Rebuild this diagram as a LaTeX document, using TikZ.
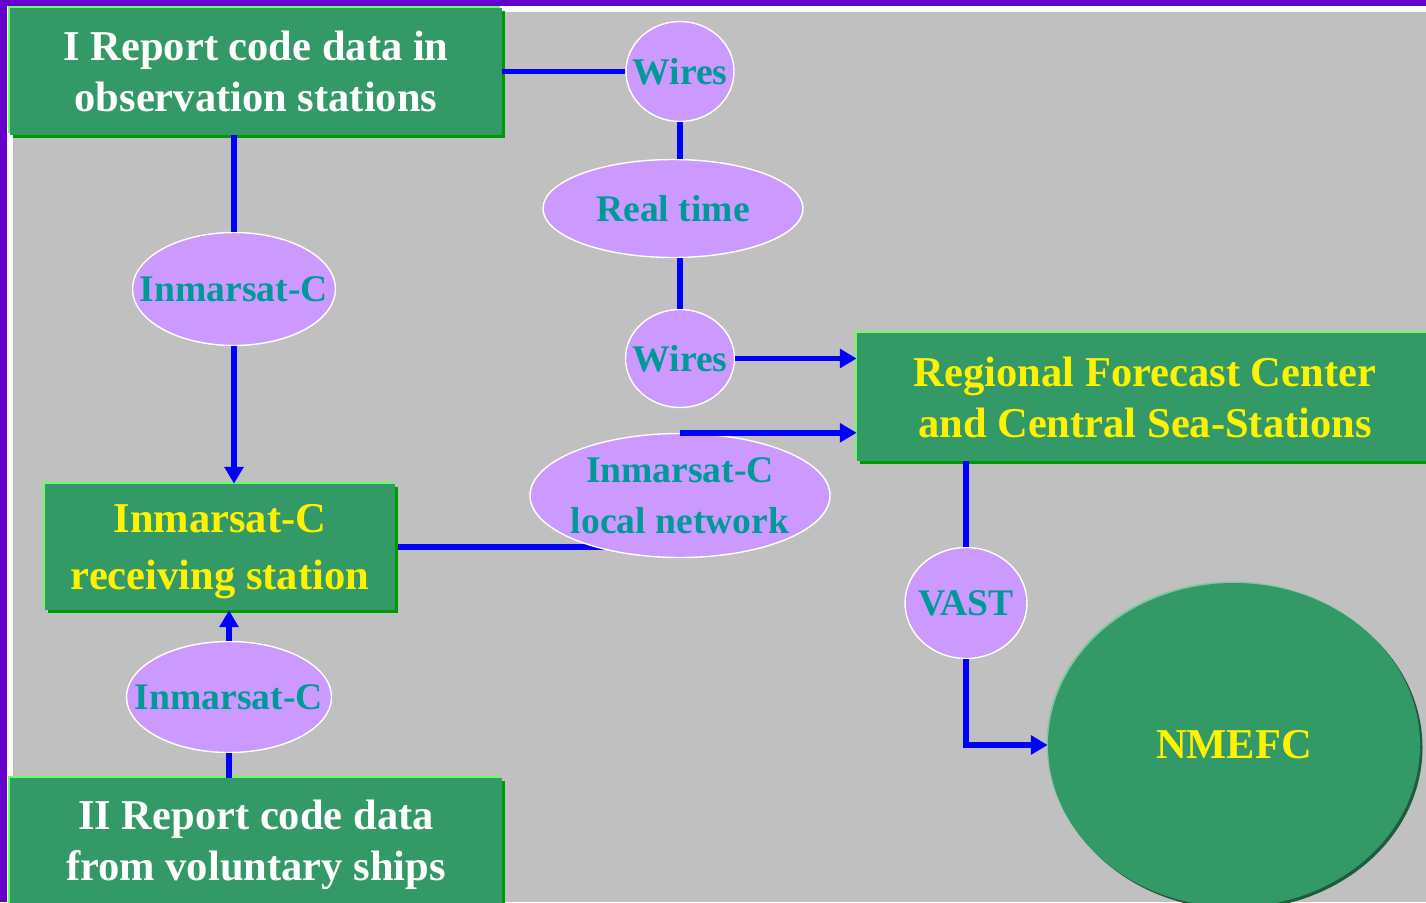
\documentclass[tikz,border=0pt]{standalone}
\usepackage{fontspec}
\setmainfont{Liberation Serif}
\usetikzlibrary{positioning,shapes.geometric,arrows.meta,shadows}

\definecolor{frame}{HTML}{6600CC}
\definecolor{panel}{HTML}{C0C0C0}
\definecolor{boxgreen}{HTML}{339966}
\definecolor{lightgreen}{HTML}{66FF66}
\definecolor{darkgreen}{HTML}{009900}
\definecolor{lilac}{HTML}{CC99FF}
\definecolor{tealtext}{HTML}{009999}
\definecolor{linkblue}{HTML}{0000FF}
\definecolor{paleedge}{HTML}{80C8A4}
\definecolor{deepedge}{HTML}{1E5C3C}

\pgfdeclarelayer{bg}
\pgfsetlayers{bg,main}

\begin{document}
\begin{tikzpicture}[node distance=20mm, >={Triangle[length=9.5pt,width=10.5pt]},
  greenbox/.style={rectangle, fill=boxgreen, minimum width=98.4mm, minimum height=25.4mm, align=center,
    drop shadow={shadow xshift=-0.4mm, shadow yshift=0.4mm, fill=lightgreen, opacity=1},
    drop shadow={shadow xshift=0.6mm, shadow yshift=-0.6mm, fill=darkgreen, opacity=1},
    font=\fontsize{24.2}{29}\selectfont\bfseries},
  bubble/.style={ellipse, fill=lilac, draw=white, line width=0.8pt, inner xsep=-40mm, inner ysep=-20mm,
    text=tealtext, align=center, font=\fontsize{21.4}{29}\selectfont\bfseries},
  link/.style={draw=linkblue, line width=3.4pt}]

  \useasboundingbox (0,0) rectangle (285.2mm,-180.4mm);

  % observation side
  \node[greenbox, text=white] (obs) at (51.2mm,-14.3mm) {I Report code data in\\observation stations};
  \node[bubble, right of=obs, node distance=84.8mm, minimum width=21.6mm, minimum height=20mm] (wiresA) {Wires};
  \node[bubble, below of=wiresA, node distance=27.4mm, xshift=-1.4mm, minimum width=52mm, minimum height=19.6mm] (realtime) {Real time};
  \node[bubble, below of=wiresA, node distance=57.4mm, minimum width=21.8mm, minimum height=19.6mm] (wiresB) {Wires};
  \node[bubble, below of=wiresB, node distance=27.4mm, minimum width=60mm, minimum height=24.8mm] (lnet) {Inmarsat-C\\local network};
  \node[bubble, minimum width=40.6mm, minimum height=22.6mm] (inmA) at (46.8mm,-57.8mm) {Inmarsat-C};
  \node[greenbox, text=yellow, minimum width=70mm, minimum height=25.2mm, text depth=0pt,
    font=\fontsize{24.2}{32}\selectfont\bfseries] (recv) at (44mm,-109.4mm) {Inmarsat-C\\receiving station};
  \node[bubble, minimum width=41mm, minimum height=22.2mm] (inmB) at (45.8mm,-139.4mm) {Inmarsat-C};
  \node[greenbox, text=white, minimum height=26.9mm] (ships) at (51.2mm,-169.05mm) {II Report code data\\from voluntary ships};

  % forecast side
  \node[greenbox, text=yellow, minimum width=115.2mm, minimum height=25.6mm] (rfc) at (229mm,-79.4mm) {Regional Forecast Center\\and Central Sea-Stations};
  \node[bubble, minimum width=24.4mm, minimum height=22.2mm] (vast) at (193.2mm,-120.6mm) {VAST};
  \node[ellipse, fill=boxgreen, text=yellow, minimum width=74.4mm, minimum height=64.8mm, inner sep=0pt,
    drop shadow={shadow xshift=-0.3mm, shadow yshift=0.3mm, fill=paleedge, opacity=1},
    drop shadow={shadow xshift=0.5mm, shadow yshift=-0.5mm, fill=deepedge, opacity=1},
    font=\fontsize{24.2}{29}\selectfont\bfseries] (nmefc) at (246.8mm,-149mm) {NMEFC};

  \begin{pgfonlayer}{bg}
    \fill[frame] (0,0) rectangle (285.2mm,-180.4mm);
    \fill[white] (1.4mm,-1.2mm) rectangle (285.2mm,-180.4mm);
    \fill[panel] (2.5mm,-2.3mm) rectangle (285.2mm,-180.4mm);
    \draw[link] (recv.east) -- (recv.east -| lnet.center);
  \end{pgfonlayer}

  \draw[link] (obs.east) -- (obs.east -| wiresA.west);
  \draw[link] (wiresA.south) -- (wiresA.south |- realtime.north);
  \draw[link] (realtime.south -| wiresB) -- (wiresB.north);
  \draw[link, ->] (wiresB.east) -- (wiresB.east -| rfc.west);
  \draw[link, ->] (lnet.north) -- (lnet.north -| rfc.west);
  \draw[link] (inmA.north) -- (inmA.north |- obs.south);
  \draw[link, ->] (inmA.south) -- (inmA.south |- recv.north);
  \draw[link] (ships.north -| inmB) -- (inmB.south);
  \draw[link, ->] (inmB.north) -- (inmB.north |- recv.south);
  \draw[link] (vast.north) -- (vast.north |- rfc.south);
  \draw[link, ->] (vast.south) |- (nmefc.west);
\end{tikzpicture}
\end{document}
